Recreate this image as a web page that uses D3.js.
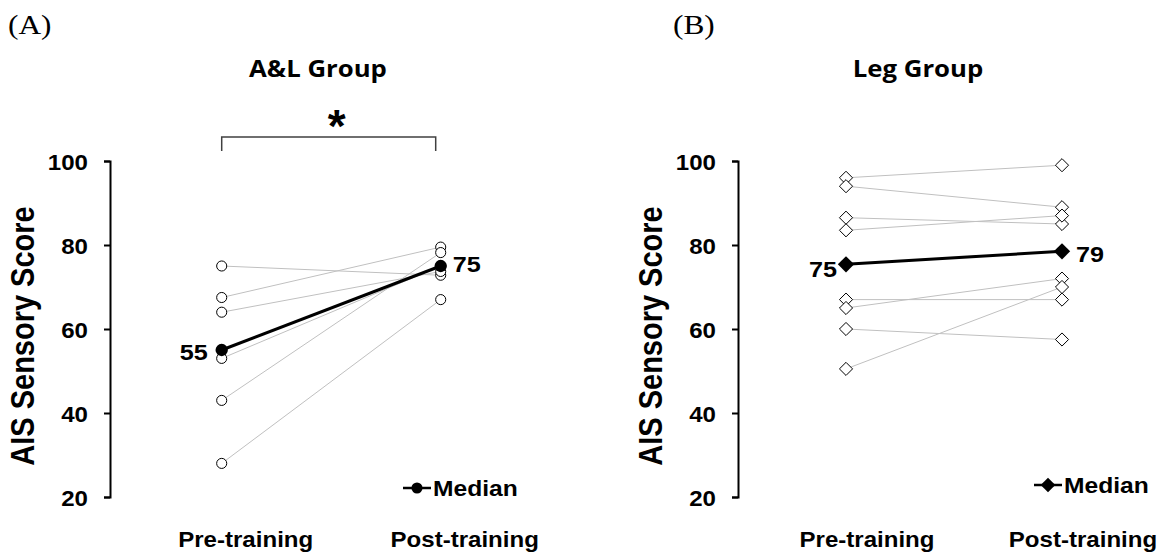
<!DOCTYPE html>
<html>
<head>
<meta charset="utf-8">
<script src="https://cdn.jsdelivr.net/npm/d3@7"></script>
<style>
  body { margin: 0; background: #fff; }
  svg { display: block; }
</style>
</head>
<body>
<script>
// x categories and y ticks
var categories = ["Pre-training", "Post-training"];
var yTicks = [20, 40, 60, 80, 100];

// A&L group (circles)
var alPre = [75, 67.5, 64, 53, 43, 28];
var alPost = [72.8, 79.5, 73.7, 75, 78.2, 67];
var alMedian = [55, 75];
var alMedianLabels = ["55", "75"];

// Leg group (diamonds)
var legPre = [96, 94, 86.5, 83.5, 67, 65, 60, 50.5];
var legPost = [99, 89, 85, 87, 67, 72, 57.5, 70];
var legMedian = [75.4, 78.5];
var legMedianLabels = ["75", "79"];

var W = 1170, H = 559;
var SX = 1.12; // the original text is a bit stretched sideways
var sans = "'Liberation Sans', Arial, sans-serif";

var svg = d3.select("body").append("svg")
    .attr("width", W)
    .attr("height", H);

var y = d3.scaleLinear().domain([20, 100]).range([497, 161]);

// helper: stretched text
function label(g, x, yy, txt, size, anchor, rot, family, weight) {
    var t = g.append("text")
        .attr("transform", "translate(" + x + "," + yy + ") scale(" + SX + ",1)" + (rot ? " rotate(" + rot + ")" : ""))
        .attr("text-anchor", anchor || "middle")
        .attr("font-family", family || sans)
        .attr("font-weight", weight || "bold")
        .attr("font-size", size)
        .attr("fill", "#000")
        .text(txt);
    return t;
}

function drawPanel(p) {
    var g = svg.append("g");
    var x = d3.scalePoint().domain(categories).range(p.xRange);

    // panel letter and title
    label(g, p.letterX, 34, p.letter, 28, "start", 0, "'Liberation Serif', 'Times New Roman', serif", "normal");
    label(g, p.titleX, 77, p.title, 23, "middle", 0, "'Open Sans', 'Noto Sans', sans-serif", "bold");

    // y axis (lines from d3, labels drawn below)
    var ax = g.append("g")
        .attr("transform", "translate(" + p.axisX + ",0)")
        .call(d3.axisLeft(y).tickValues(yTicks).tickSize(6).tickFormat(""));
    ax.select(".domain").attr("stroke", "#000").attr("stroke-width", 2);
    ax.selectAll(".tick line").attr("stroke", "#000").attr("stroke-width", 2);
    yTicks.forEach(function(t) {
        label(g, p.axisX - 22, y(t) + 1, String(t), 21.5, "end")
            .attr("dominant-baseline", "central");
    });

    // y axis title
    label(g, p.axisTitleX, 336, "AIS Sensory Score", 29, "middle", -90);

    // x labels
    categories.forEach(function(c) {
        label(g, x(c) + p.labelOffset, 547, c, 21.5, "middle");
    });

    // individual subjects
    var pairs = p.pre.map(function(v, i) { return [v, p.post[i]]; });
    var line = d3.line().x(function(d, i) { return x(categories[i]); }).y(function(d) { return y(d); });
    g.selectAll(".subj")
        .data(pairs)
        .enter().append("path")
        .attr("class", "subj")
        .attr("d", line)
        .attr("fill", "none")
        .attr("stroke", "#c0c0c0")
        .attr("stroke-width", 1);

    // median line
    g.append("path")
        .attr("d", line(p.median))
        .attr("fill", "none")
        .attr("stroke", "#000")
        .attr("stroke-width", 3);

    // subject markers
    var pts = [];
    p.pre.forEach(function(v) { pts.push({c: categories[0], v: v}); });
    p.post.forEach(function(v) { pts.push({c: categories[1], v: v}); });
    var openSym = d3.symbol().type(p.symbol).size(p.symSize);
    g.selectAll(".pt")
        .data(pts)
        .enter().append("path")
        .attr("class", "pt")
        .attr("d", openSym)
        .attr("transform", function(d) { return "translate(" + x(d.c) + "," + y(d.v) + ")"; })
        .attr("fill", "#fff")
        .attr("stroke", "#000")
        .attr("stroke-width", 1);

    // median markers
    var fillSym = d3.symbol().type(p.symbol).size(p.medSize);
    g.selectAll(".med")
        .data(p.median)
        .enter().append("path")
        .attr("class", "med")
        .attr("d", fillSym)
        .attr("transform", function(d, i) { return "translate(" + x(categories[i]) + "," + y(d) + ")"; })
        .attr("fill", "#000");

    // median value labels
    p.median.forEach(function(v, i) {
        var o = p.medLabelOff[i];
        label(g, x(categories[i]) + o[0], y(v) + o[1], p.medLabels[i], 22.5, i === 0 ? "end" : "start")
            .attr("dominant-baseline", "central");
    });

    // legend
    var lg = g.append("g").attr("transform", "translate(" + p.legend[0] + "," + p.legend[1] + ")");
    lg.append("line").attr("x1", 0).attr("x2", 28).attr("stroke", "#000").attr("stroke-width", 2.5);
    lg.append("path").attr("d", d3.symbol().type(p.symbol).size(p.medSize * 0.8)).attr("transform", "translate(14,0)").attr("fill", "#000");
    label(lg, 30, 8, "Median", 22, "start");

    return x;
}

var xA = drawPanel({
    letter: "(A)", letterX: 8, title: "A&L Group", titleX: 318,
    xRange: [221.7, 440.7], axisX: 110, axisTitleX: 34, labelOffset: 24,
    pre: alPre, post: alPost, median: alMedian, medLabels: alMedianLabels,
    symbol: d3.symbolCircle, symSize: 80, medSize: 120,
    medLabelOff: [[-14, 2], [12, -2]], legend: [403, 488]
});

drawPanel({
    letter: "(B)", letterX: 673, title: "Leg Group", titleX: 918,
    xRange: [846, 1062], axisX: 738, axisTitleX: 662, labelOffset: 21,
    pre: legPre, post: legPost, median: legMedian, medLabels: legMedianLabels,
    symbol: d3.symbolDiamond2, symSize: 110, medSize: 170,
    medLabelOff: [[-9, 5], [14, 3]], legend: [1034, 485]
});

// significance bracket over the A&L group
var bx0 = xA(categories[0]), bx1 = xA(categories[1]) - 5;
svg.append("path")
    .attr("d", d3.line()([[bx0, 151], [bx0, 137], [bx1, 137], [bx1, 151]]))
    .attr("fill", "none")
    .attr("stroke", "#404040")
    .attr("stroke-width", 1.5);
svg.append("text")
    .attr("x", (bx0 + bx1) / 2 + 8)
    .attr("y", 142)
    .attr("text-anchor", "middle")
    .attr("font-family", sans)
    .attr("font-weight", "bold")
    .attr("font-size", 46)
    .text("*");
</script>
</body>
</html>
